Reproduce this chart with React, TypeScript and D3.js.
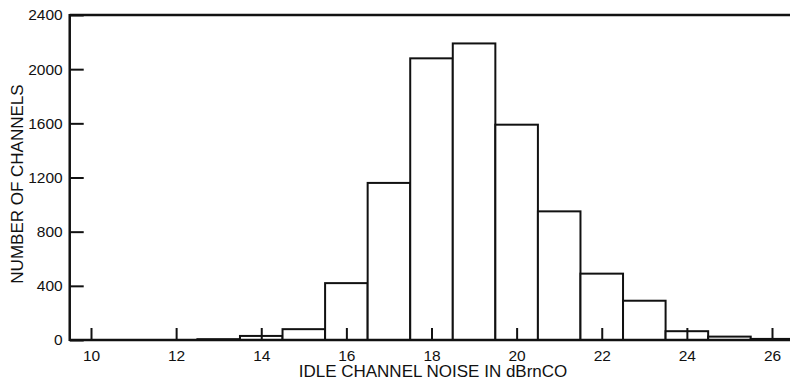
import React, { useEffect, useRef } from 'react';
import * as d3 from 'd3';

// histogram bins (centre of each 1 dB bin) and channel counts
const noiseLevels = [13, 14, 15, 16, 17, 18, 19, 20, 21, 22, 23, 24, 25, 26];
const channelCounts = [6, 30, 80, 420, 1160, 2080, 2190, 1590, 950, 490, 290, 65, 25, 8];
const xTicks = [10, 12, 14, 16, 18, 20, 22, 24, 26];
const yTicks = [0, 400, 800, 1200, 1600, 2000, 2400];

export default function App() {
  const svgRef = useRef<SVGSVGElement>(null);

  useEffect(() => {
    if (!svgRef.current) return;
    const width = 790;
    const ink = '#111';
    const font = '"Liberation Sans", Arial, sans-serif';

    const svg = d3.select(svgRef.current);
    svg.selectAll('*').remove();

    const x = d3.scaleLinear().domain([10, 26]).range([91, 772]);
    const y = d3.scaleLinear().domain([0, 2400]).range([340, 15]);
    const left = x(9.5);

    // bars
    svg.append('g').selectAll('.bar')
      .data(noiseLevels.map((n, i) => ({ n, v: channelCounts[i] })))
      .enter()
      .append('rect')
      .attr('class', 'bar')
      .attr('x', d => x(d.n - 0.5))
      .attr('y', d => y(d.v))
      .attr('width', d => x(d.n + 0.5) - x(d.n - 0.5))
      .attr('height', d => y(0) - y(d.v))
      .attr('fill', '#fff')
      .attr('stroke', ink)
      .attr('stroke-width', 2);

    // x axis (ticks point up into the plot)
    const xAxis = d3.axisBottom(x).tickValues(xTicks).tickSize(-12).tickPadding(9).tickFormat(d3.format('d'));
    const gx = svg.append('g')
      .attr('transform', `translate(0,${y(0)})`)
      .call(xAxis);
    gx.select('.domain').remove();
    gx.selectAll('line').attr('stroke', ink).attr('stroke-width', 2);
    gx.selectAll('text')
      .attr('fill', ink)
      .attr('font-family', font)
      .attr('font-size', 15.5)
      .attr('dy', '0.75em');

    // y axis (ticks point right into the plot)
    const yAxis = d3.axisLeft(y).tickValues(yTicks).tickSize(-14).tickPadding(7).tickFormat(d3.format('d'));
    const gy = svg.append('g')
      .attr('transform', `translate(${left},0)`)
      .call(yAxis);
    gy.select('.domain').remove();
    gy.selectAll('line').attr('stroke', ink).attr('stroke-width', 2);
    gy.selectAll('text')
      .attr('fill', ink)
      .attr('font-family', font)
      .attr('font-size', 15.5);

    // frame: left, bottom and top lines
    svg.append('line')
      .attr('x1', left).attr('x2', left)
      .attr('y1', y(2400) - 1).attr('y2', y(0) + 1)
      .attr('stroke', ink).attr('stroke-width', 2.5);
    svg.append('line')
      .attr('x1', left).attr('x2', width)
      .attr('y1', y(0)).attr('y2', y(0))
      .attr('stroke', ink).attr('stroke-width', 2.5);
    svg.append('line')
      .attr('x1', left).attr('x2', width)
      .attr('y1', y(2400)).attr('y2', y(2400))
      .attr('stroke', ink).attr('stroke-width', 2.5);

    // axis titles
    svg.append('text')
      .attr('x', 433)
      .attr('y', 377)
      .attr('text-anchor', 'middle')
      .attr('fill', ink)
      .attr('font-family', font)
      .attr('font-size', 17)
      .text('IDLE CHANNEL NOISE IN dBrnCO');

    svg.append('text')
      .attr('transform', 'translate(23,184) rotate(-90)')
      .attr('text-anchor', 'middle')
      .attr('fill', ink)
      .attr('font-family', font)
      .attr('font-size', 17)
      .text('NUMBER OF CHANNELS');
  }, []);

  return (
    <div style={{ position: 'absolute', left: 0, top: 0, width: 790, height: 381, background: '#fff' }}>
      <svg ref={svgRef} width={790} height={381} style={{ display: 'block' }} />
    </div>
  );
}
